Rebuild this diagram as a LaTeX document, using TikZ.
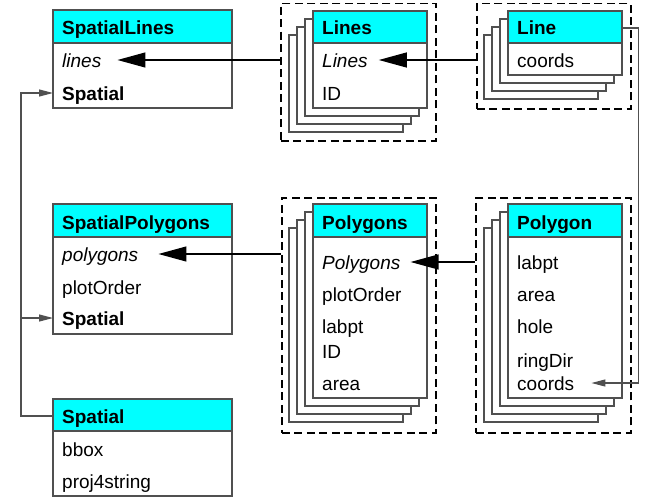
\documentclass[tikz,border=0pt]{standalone}
\usepackage{fontspec}
\setmainfont{Liberation Sans}
\usetikzlibrary{arrows.meta}
\definecolor{edge}{RGB}{80,80,80}
\definecolor{hdrcyan}{RGB}{0,255,255}
\begin{document}
\begin{tikzpicture}[x=1pt,y=-1pt,font=\fontsize{19}{21}\selectfont,
		box/.style={draw=edge,line width=1.2pt,fill=white},
		hdr/.style={draw=edge,line width=1.2pt,fill=hdrcyan},
		grp/.style={draw=black,line width=1.5pt,dash pattern=on 8pt off 4.5pt,anchor=north west,inner sep=0pt},
		fld/.style={anchor=base west,inner xsep=9pt,inner ysep=0pt,text height=14pt,text depth=0pt},
		ttl/.style={fld,font=\fontsize{19}{21}\selectfont\bfseries,text width=#1},
		big/.style={draw=black,line width=1.2pt,-{Triangle[length=28pt,width=15pt]}},
		small/.style={draw=edge,line width=1.2pt,-{Triangle[length=14pt,width=7pt]}}]
	\useasboundingbox (0,0) rectangle (652,503);
	% dashed groups
	\node[grp,minimum width=155pt,minimum height=137pt] (lsgrp) at (280,3) {};
	\node[grp,minimum width=154pt,minimum height=105pt] (lngrp) at (476,3) {};
	\node[grp,minimum width=154pt,minimum height=235pt] (pgsgrp) at (281,197) {};
	\node[grp,minimum width=155pt,minimum height=235pt] (pggrp) at (475,197) {};
	% stacked copies
	\foreach \k in {3,2,1} {
		\draw[box,shift={(-8*\k,8*\k)}] (313,11) rectangle (427,108);
		\draw[box,shift={(-8*\k,8*\k)}] (508,11) rectangle (622,75);
		\draw[box,shift={(-8*\k,8*\k)}] (313,204) rectangle (427,398);
		\draw[box,shift={(-8*\k,8*\k)}] (508,204) rectangle (622,398);
	}
	% SpatialLines
	\draw[box] (53,10) rectangle (232,108);
	\draw[hdr] (53,10) rectangle (232,43);
	\node[ttl=161pt] (slt) at (53,35) {SpatialLines};
	\node[fld] (sl1) at (53,67) {\itshape lines};
	\node[fld] (sl2) at (53,100) {\bfseries Spatial};
	% Lines
	\draw[box] (313,11) rectangle (427,108);
	\draw[hdr] (313,11) rectangle (427,43);
	\node[ttl=96pt] (lst) at (313,35) {Lines};
	\node[fld] (ls1) at (313,67) {\itshape Lines};
	\node[fld] (ls2) at (313,100) {ID};
	% Line
	\draw[box] (508,11) rectangle (622,75);
	\draw[hdr] (508,11) rectangle (622,43);
	\node[ttl=96pt] (lnt) at (508,35) {Line};
	\node[fld] (ln1) at (508,67) {coords};
	% SpatialPolygons
	\draw[box] (53,204) rectangle (232,334);
	\draw[hdr] (53,204) rectangle (232,237);
	\node[ttl=161pt] (spt) at (53,229) {SpatialPolygons};
	\node[fld] (sp1) at (53,261) {\itshape polygons};
	\node[fld] (sp2) at (53,294) {plotOrder};
	\node[fld] (sp3) at (53,325) {\bfseries Spatial};
	% Polygons
	\draw[box] (313,204) rectangle (427,398);
	\draw[hdr] (313,204) rectangle (427,237);
	\node[ttl=96pt] (pst) at (313,229) {Polygons};
	\node[fld] (ps1) at (313,269) {\itshape Polygons};
	\node[fld] (ps2) at (313,301) {plotOrder};
	\node[fld] (ps3) at (313,333) {labpt};
	\node[fld] (ps4) at (313,358) {ID};
	\node[fld] (ps5) at (313,390) {area};
	% Polygon
	\draw[box] (508,204) rectangle (622,398);
	\draw[hdr] (508,204) rectangle (622,237);
	\node[ttl=96pt] (pgt) at (508,229) {Polygon};
	\node[fld] (pg1) at (508,269) {labpt};
	\node[fld] (pg2) at (508,301) {area};
	\node[fld] (pg3) at (508,333) {hole};
	\node[fld] (pg4) at (508,367) {ringDir};
	\node[fld] (pg5) at (508,390) {coords};
	% Spatial
	\draw[box] (53,399) rectangle (232,496);
	\draw[hdr] (53,399) rectangle (232,431);
	\node[ttl=161pt] (st) at (53,423) {Spatial};
	\node[fld] (st1) at (53,456) {bbox};
	\node[fld] (st2) at (53,488) {proj4string};
	% arrows
	\draw[big] (lsgrp.west |- sl1) -- ([xshift=7pt]sl1.east);
	\draw[big] (lngrp.west |- ls1) -- ([xshift=2pt]ls1.east);
	\draw[big] (pgsgrp.west |- sp1) -- ([xshift=11pt]sp1.east);
	\draw[big] (pggrp.west |- ps1) -- ([xshift=1pt]ps1.east);
	\draw[small] (lnt.east) -- ++(16,0) |- ([xshift=8pt]pg5.east);
	\draw[small] (st.west) -- ++(-32,0) |- (sl2.west);
	\draw[small] (st.west) -- ++(-32,0) |- (sp3.west);
\end{tikzpicture}
\end{document}
